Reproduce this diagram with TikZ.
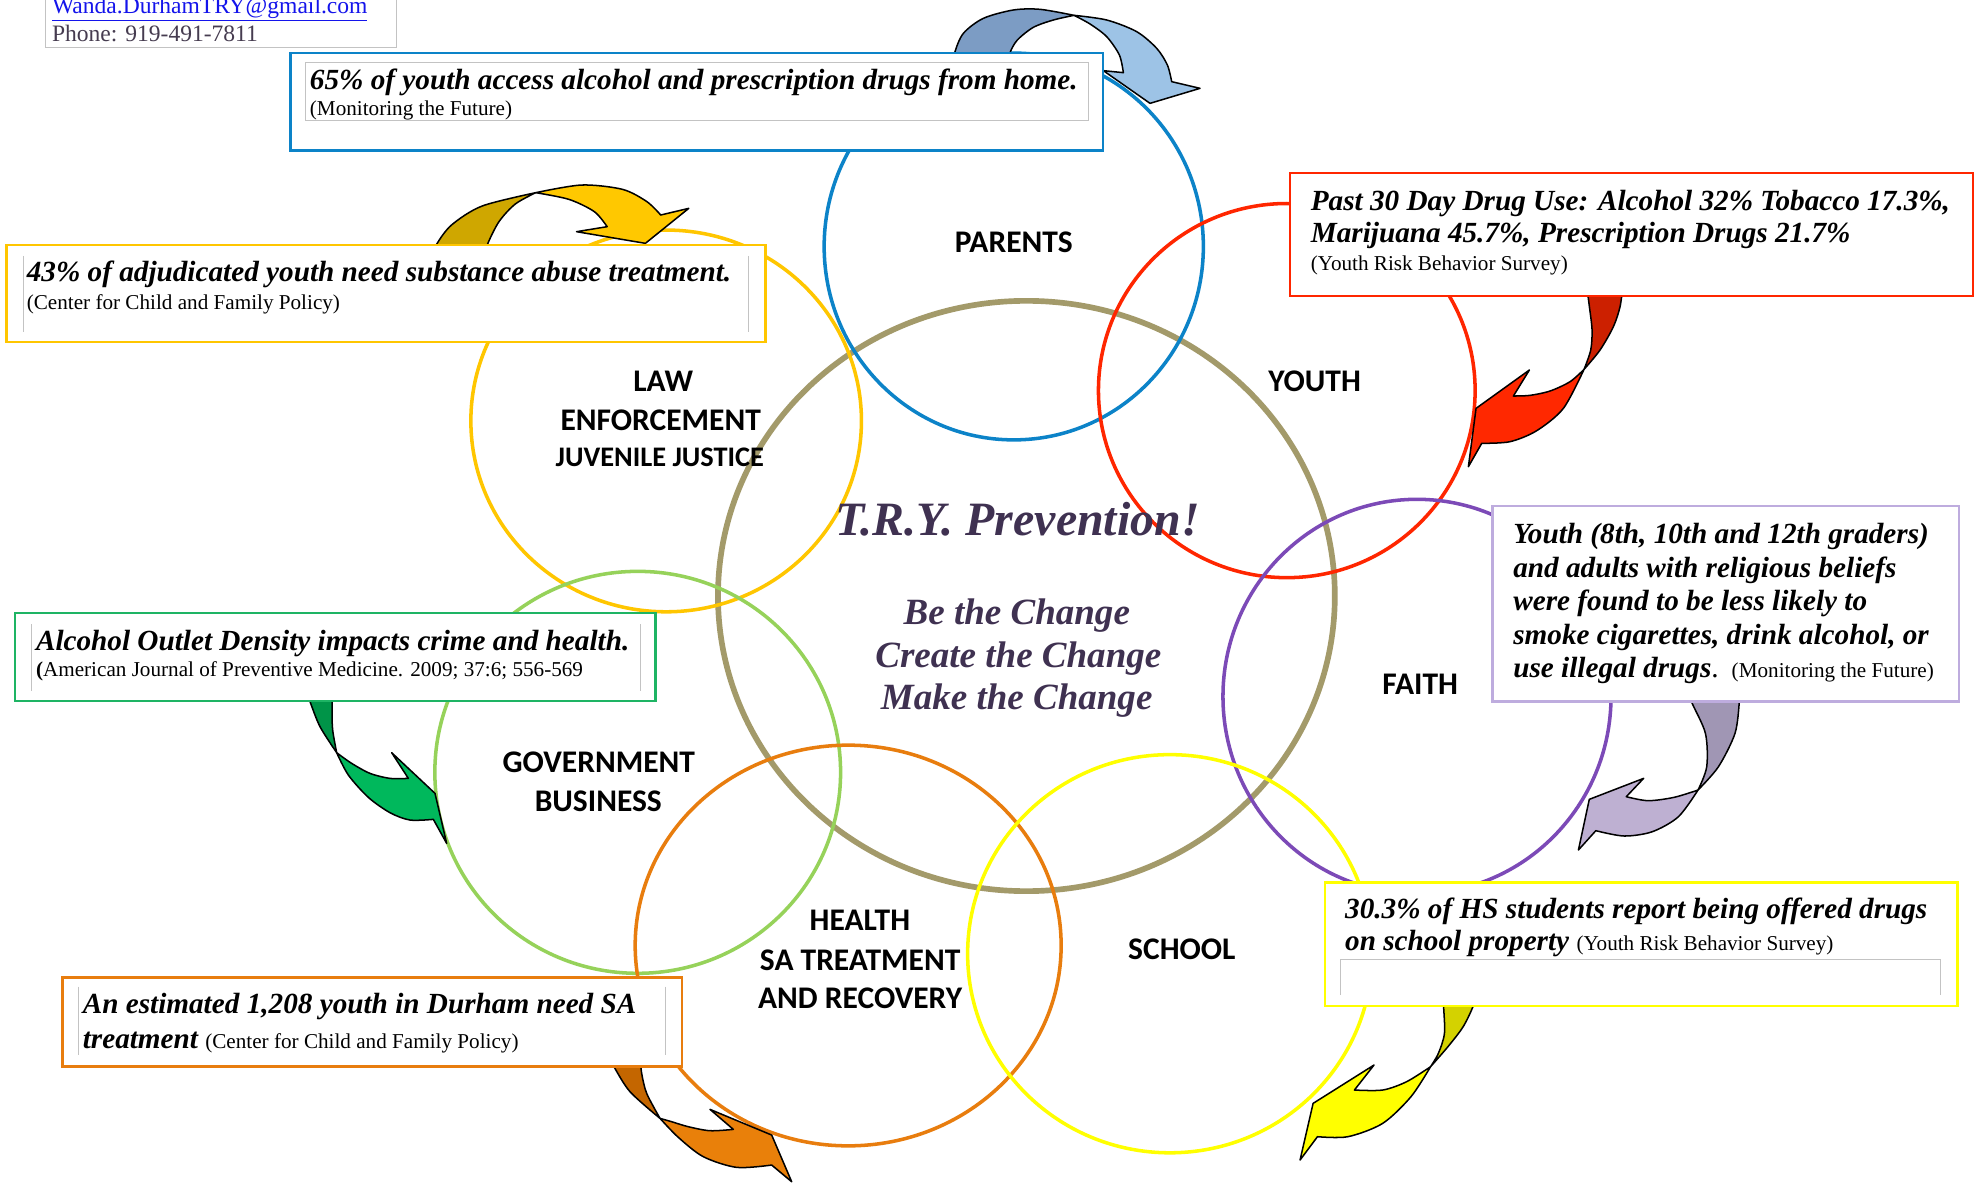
\documentclass[tikz,border=0pt]{standalone}
\usepackage{fontspec}
\setmainfont{Liberation Serif}
\newfontfamily\calibfont{Carlito}
\definecolor{cOlive}{RGB}{163,154,106}
\definecolor{cBlue}{RGB}{12,131,200}
\definecolor{cRed}{RGB}{255,38,0}
\definecolor{cGold}{RGB}{255,198,0}
\definecolor{cPurple}{RGB}{124,74,183}
\definecolor{cLgreen}{RGB}{150,210,90}
\definecolor{cOrange}{RGB}{232,125,14}
\definecolor{cYellow}{RGB}{255,255,0}
\definecolor{cGreenBox}{RGB}{30,180,100}
\definecolor{cLavender}{RGB}{190,172,222}
\definecolor{cTitle}{RGB}{63,49,81}
\definecolor{cGrayLine}{RGB}{195,195,195}
\definecolor{cMail}{RGB}{20,20,235}
\definecolor{cPhone}{RGB}{70,60,80}
\definecolor{aBlueD}{RGB}{124,156,196}
\definecolor{aBlueL}{RGB}{157,195,230}
\definecolor{aGoldD}{RGB}{207,167,0}
\definecolor{aGoldL}{RGB}{255,200,0}
\definecolor{aRedD}{RGB}{204,32,0}
\definecolor{aRedL}{RGB}{255,40,0}
\definecolor{aGreenD}{RGB}{0,148,72}
\definecolor{aGreenL}{RGB}{0,184,92}
\definecolor{aPurD}{RGB}{160,150,180}
\definecolor{aPurL}{RGB}{190,176,210}
\definecolor{aOraD}{RGB}{196,102,0}
\definecolor{aOraL}{RGB}{233,128,10}
\definecolor{aYelD}{RGB}{212,210,0}
\definecolor{aYelL}{RGB}{255,255,0}
\newcommand\BIsz{\fontsize{23.2}{27}\selectfont\bfseries\itshape}
\newcommand\CITsz{\fontsize{16.8}{20}\selectfont\mdseries\upshape}
\begin{document}
\begin{tikzpicture}[x=1bp,y=-1bp,
  ring/.style={line width=2.8},
  arrowline/.style={draw=black, line width=1.2, line join=round},
  infobox/.style={fill=white, line width=2},
  innerline/.style={draw=cGrayLine, line width=0.8},
  txt/.style={inner sep=0pt, anchor=base west},
  lab/.style={inner sep=0pt, anchor=base, font={\calibfont\bfseries\fontsize{25}{30}\selectfont}},
  slogan/.style={inner sep=0pt, anchor=base, text=cTitle, font={\bfseries\itshape\fontsize{29.4}{34}\selectfont}}]
\useasboundingbox (0,0) rectangle (1568,936);
\fill[white] (0,0) rectangle (1568,936);
\clip (0,0) rectangle (1568,936);

% circles
\draw[cOlive, line width=4.5] (812,471.5) ellipse [x radius=244, y radius=233.5];
\draw[cBlue, ring] (802,195) ellipse [x radius=150, y radius=153];
\draw[cRed, ring] (1018,309) ellipse [x radius=149, y radius=148];
\draw[cGold, ring] (527,333) ellipse [x radius=154.5, y radius=151];
\draw[cPurple, ring] (1121,551) ellipse [x radius=153.5, y radius=156];
\draw[cLgreen, ring] (504.5,611) ellipse [x radius=160.5, y radius=159];
\draw[cOrange, ring] (671,748) ellipse [x radius=168.5, y radius=158.5];
\draw[cYellow, ring] (925.5,754.5) ellipse [x radius=160, y radius=157.5];

% blue arrow
\begin{scope}[shift={(735.76bp,0bp)}, x=0.26371bp, y=-0.26371bp]
 \filldraw[arrowline, fill=aBlueD] plot[smooth] coordinates {(70,200)(74,158)(100,100)(160,55)(250,30)(330,28)(432,46)}
   -- plot[smooth] coordinates {(432,46)(370,60)(310,82)(262,120)(240,158)(232,200)} -- cycle;
 \filldraw[arrowline, fill=aBlueL] plot[smooth] coordinates {(432,46)(530,60)(620,95)(680,145)(712,195)(725,245)}
   -- (810,265) -- (660,310) -- (520,212) -- (580,218)
   -- plot[smooth] coordinates {(580,218)(568,165)(530,110)(480,72)(432,46)} -- cycle;
\end{scope}
% gold arrow
\begin{scope}[shift={(0bp,-142.41bp)}, x=0.40362bp, y=-0.26371bp]
 \filldraw[arrowline, fill=aGoldD] plot[smooth] coordinates {(850,230)(855,195)(885,135)(945,78)(1050,38)}
   -- plot[smooth] coordinates {(1050,38)(1010,72)(978,125)(955,195)(952,230)} -- cycle;
 \filldraw[arrowline, fill=aGoldL] plot[smooth] coordinates {(1050,38)(1140,15)(1220,28)(1268,65)(1295,105)}
   -- (1350,85) -- (1265,190) -- (1130,155) -- (1190,140)
   -- plot[smooth] coordinates {(1190,140)(1165,95)(1115,58)(1050,38)} -- cycle;
\end{scope}
% red arrow
\begin{scope}[shift={(1139.24bp,-221.52bp)}, x=0.26371bp, y=-0.26371bp]
 \filldraw[arrowline, fill=aRedD] plot[smooth] coordinates {(440,20)(448,80)(456,150)(452,210)(432,268)}
   -- plot[smooth] coordinates {(432,268)(480,210)(520,140)(540,80)(548,20)} -- cycle;
 \filldraw[arrowline, fill=aRedL] plot[smooth] coordinates {(432,268)(390,305)(330,333)(270,346)(220,348)}
   -- (268,270) -- (108,385) -- (85,560) -- (125,490)
   -- plot[smooth] coordinates {(125,490)(210,485)(290,452)(370,385)(432,268)} -- cycle;
\end{scope}
% purple arrow
\begin{scope}[shift={(1028.48bp,-379.75bp)}, x=0.34410bp, y=-0.26371bp]
 \filldraw[arrowline, fill=aPurD] plot[smooth] coordinates {(900,640)(900,665)(932,760)(935,860)(915,930)}
   -- plot[smooth] coordinates {(915,930)(962,860)(1000,760)(1010,665)(1010,640)} -- cycle;
 \filldraw[arrowline, fill=aPurL] plot[smooth] coordinates {(915,930)(860,952)(800,962)(750,950)}
   -- (790,895) -- (665,958) -- (640,1110) -- (680,1052)
   -- plot[smooth] coordinates {(680,1052)(745,1068)(810,1055)(870,1010)(915,930)} -- cycle;
\end{scope}
% green arrow
\begin{scope}[shift={(229.43bp,-545.89bp)}, x=0.26371bp, y=-0.26371bp]
 \filldraw[arrowline, fill=aGreenD] plot[smooth] coordinates {(50,10)(60,35)(90,110)(140,188)}
   -- plot[smooth] coordinates {(140,188)(128,120)(126,60)(128,10)} -- cycle;
 \filldraw[arrowline, fill=aGreenL] plot[smooth] coordinates {(140,188)(175,255)(235,322)(300,368)(360,390)(430,388)}
   -- (470,460) -- (435,310) -- (305,188) -- (355,265)
   -- plot[smooth] coordinates {(355,265)(300,265)(240,250)(185,220)(140,188)} -- cycle;
\end{scope}
% orange arrow
\begin{scope}[shift={(466.77bp,-830.70bp)}, x=0.26371bp, y=-0.26371bp]
 \filldraw[arrowline, fill=aOraD] plot[smooth] coordinates {(55,20)(70,47)(120,125)(210,205)}
   -- plot[smooth] coordinates {(210,205)(170,130)(155,70)(150,20)} -- cycle;
 \filldraw[arrowline, fill=aOraL] plot[smooth] coordinates {(210,205)(265,262)(340,320)(440,352)(545,345)}
   -- (605,395) -- (545,255) -- (360,178) -- (430,238)
   -- plot[smooth] coordinates {(430,238)(360,242)(295,230)(245,215)(210,205)} -- cycle;
\end{scope}
% yellow arrow
\begin{scope}[shift={(1028.48bp,-680.38bp)}, x=0.34410bp, y=-0.26371bp]
 \filldraw[arrowline, fill=aYelD] plot[smooth] coordinates {(330,410)(330,438)(332,520)(318,580)(300,620)}
   -- plot[smooth] coordinates {(300,620)(340,560)(375,500)(398,438)(400,410)} -- cycle;
 \filldraw[arrowline, fill=aYelL] plot[smooth] coordinates {(300,620)(245,665)(190,690)(125,690)}
   -- (170,615) -- (30,730) -- (0,900) -- (40,830)
   -- plot[smooth] coordinates {(40,830)(110,830)(190,790)(255,710)(300,620)} -- cycle;
\end{scope}

% contact box
\draw[cGrayLine, line width=0.8] (36.3,-5) -- (36.3,37.4) -- (313.5,37.4) -- (313.5,-5);
\node[txt, text=cMail, font=\fontsize{18.7}{22}\selectfont] (mail) at (41,10.5) {\underline{Wanda.DurhamTRY@gmail.com}};
\node[txt, text=cPhone, font=\fontsize{18.7}{22}\selectfont] (phone) at (41,33) {Phone: 919-491-7811};

% boxes
\draw[infobox, draw=cBlue] (230,42) rectangle (872.5,119);
\draw[innerline] (242,49.6) rectangle (861,95.7);
\draw[infobox, draw=cGold] (5,194) rectangle (605.5,270.5);
\draw[innerline] (18.2,202.5) -- (18.2,262.4) (592.5,202.5) -- (592.5,262.4);
\draw[infobox, draw=cRed] (1020.5,137) rectangle (1561,234);
\draw[infobox, draw=cLavender] (1180.6,400.3) rectangle (1549.8,555.1);
\draw[infobox, draw=cGreenBox] (11.7,485) rectangle (518.5,554.7);
\draw[innerline] (24.7,493.8) -- (24.7,546.8) (506.8,493.8) -- (506.8,546.8);
\draw[infobox, draw=cOrange] (49.4,773.2) rectangle (539.7,843.8);
\draw[innerline] (62.2,780.6) -- (62.2,835) (526.2,780.6) -- (526.2,835);
\draw[infobox, draw=cYellow] (1048.1,698) rectangle (1548.8,795.9);
\draw[innerline] (1060.5,787.2) -- (1060.5,759) -- (1535.4,759) -- (1535.4,787.2);

% box texts
\node[txt, font=\BIsz] (p1) at (245,70.7) {65\% of youth access alcohol and prescription drugs from home.};
\node[txt, font=\CITsz] (p2) at (245,91.5) {(Monitoring the Future)};
\node[txt, font=\BIsz] (l1) at (21,222.8) {43\% of adjudicated youth need substance abuse treatment.};
\node[txt, font=\CITsz] (l2) at (21,244.7) {(Center for Child and Family Policy)};
\node[txt, font=\BIsz] (y1) at (1036.8,166.2) {Past 30 Day Drug Use: Alcohol 32\% Tobacco 17.3\%,};
\node[txt, font=\BIsz] (y2) at (1036.8,192) {Marijuana 45.7\%, Prescription Drugs 21.7\%};
\node[txt, font=\CITsz] (y3) at (1036.8,213.6) {(Youth Risk Behavior Survey)};
\node[txt, font=\BIsz] (f1) at (1197,430) {Youth (8th, 10th and 12th graders)};
\node[txt, font=\BIsz] (f2) at (1197,456.5) {and adults with religious beliefs};
\node[txt, font=\BIsz] (f3) at (1197,483) {were found to be less likely to};
\node[txt, font=\BIsz] (f4) at (1197,509.5) {smoke cigarettes, drink alcohol, or};
\node[txt, font=\BIsz] (f5) at (1197,536) {use illegal drugs{\mdseries\upshape.}};
\node[txt, font=\CITsz] (f6) at (1369.8,536) {(Monitoring the Future)};
\node[txt, font=\BIsz] (g1) at (28.3,514.4) {Alcohol Outlet Density impacts crime and health.};
\node[txt, font=\CITsz] (g2) at (28.3,535) {{\bfseries(}American Journal of Preventive Medicine. 2009; 37:6; 556-569};
\node[txt, font=\BIsz] (h1) at (65.3,801.8) {An estimated 1,208 youth in Durham need SA};
\node[txt, font=\BIsz] (h2) at (65.3,829.1) {treatment {\CITsz(Center for Child and Family Policy)}};
\node[txt, font=\BIsz] (s1) at (1064,726.5) {30.3\% of HS students report being offered drugs};
\node[txt, font=\BIsz] (s2) at (1064,751.6) {on school property {\CITsz(Youth Risk Behavior Survey)}};

% circle labels
\node[lab] (parents) at (802,200) {PARENTS};
\node[lab] (youth) at (1040,310) {YOUTH};
\node[lab] (law) at (524.7,310) {LAW};
\node[lab] (enf) at (522.7,340.5) {ENFORCEMENT};
\node[lab, font={\calibfont\bfseries\fontsize{22.5}{27}\selectfont}] (jj) at (522,369.2) {JUVENILE JUSTICE};
\node[lab] (faith) at (1123.5,549.8) {FAITH};
\node[lab] (gov) at (473.7,611.5) {GOVERNMENT};
\node[lab] (bus) at (473.3,642.3) {BUSINESS};
\node[lab] (health) at (680.3,736.3) {HEALTH};
\node[lab] (sat) at (680.5,767.4) {SA TREATMENT};
\node[lab] (rec) at (680.5,797.7) {AND RECOVERY};
\node[lab] (school) at (935,759) {SCHOOL};

% centre texts
\node[inner sep=0pt, anchor=base, text=cTitle, font={\bfseries\itshape\fontsize{38}{43}\selectfont}] (title) at (805,423.5) {T.R.Y. Prevention!};
\node[slogan] (be) at (804.4,494) {Be the Change};
\node[slogan] (create) at (805.6,528) {Create the Change};
\node[slogan] (make) at (804.3,561) {Make the Change};
\end{tikzpicture}
\end{document}
